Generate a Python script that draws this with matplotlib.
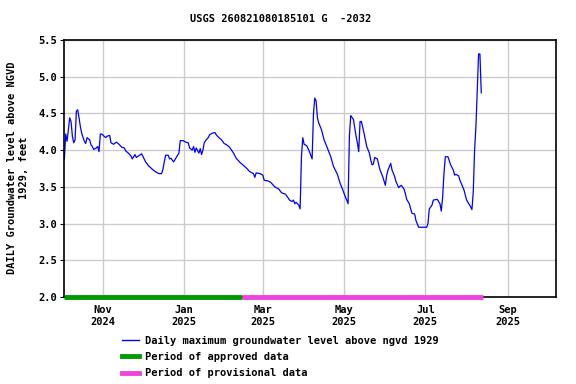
import matplotlib
matplotlib.use("Agg")
import matplotlib.pyplot as plt
import matplotlib.dates as mdates
from matplotlib.lines import Line2D
import pandas as pd

# daily maximum groundwater level (ft above NGVD 1929)
dates = [
    "2024-10-03", "2024-10-04", "2024-10-05", "2024-10-07", "2024-10-08", "2024-10-09",
    "2024-10-10", "2024-10-11", "2024-10-12", "2024-10-13", "2024-10-14", "2024-10-15",
    "2024-10-16", "2024-10-18", "2024-10-19", "2024-10-20", "2024-10-22", "2024-10-23",
    "2024-10-24", "2024-10-25", "2024-10-27", "2024-10-28", "2024-10-29", "2024-10-30",
    "2024-10-31", "2024-11-03", "2024-11-04", "2024-11-06", "2024-11-07", "2024-11-09",
    "2024-11-11", "2024-11-13", "2024-11-15", "2024-11-17", "2024-11-18", "2024-11-20",
    "2024-11-22", "2024-11-23", "2024-11-25", "2024-11-26", "2024-11-30", "2024-12-03",
    "2024-12-05", "2024-12-08", "2024-12-10", "2024-12-13", "2024-12-15", "2024-12-16",
    "2024-12-17", "2024-12-18", "2024-12-20", "2024-12-21", "2024-12-22", "2024-12-24",
    "2024-12-26", "2024-12-28", "2024-12-29", "2024-12-31", "2025-01-02", "2025-01-04",
    "2025-01-05", "2025-01-07", "2025-01-08", "2025-01-09", "2025-01-10", "2025-01-12",
    "2025-01-13", "2025-01-14", "2025-01-15", "2025-01-16", "2025-01-17", "2025-01-19",
    "2025-01-20", "2025-01-22", "2025-01-24", "2025-01-25", "2025-01-27", "2025-01-29",
    "2025-01-31", "2025-02-02", "2025-02-04", "2025-02-07", "2025-02-09", "2025-02-12",
    "2025-02-14", "2025-02-17", "2025-02-19", "2025-02-22", "2025-02-23", "2025-02-24",
    "2025-02-27", "2025-03-01", "2025-03-02", "2025-03-05", "2025-03-07", "2025-03-10",
    "2025-03-13", "2025-03-15", "2025-03-18", "2025-03-20", "2025-03-21", "2025-03-23",
    "2025-03-24", "2025-03-25", "2025-03-26", "2025-03-28", "2025-03-29", "2025-03-30",
    "2025-03-31", "2025-04-01", "2025-04-03", "2025-04-05", "2025-04-06", "2025-04-07",
    "2025-04-08", "2025-04-09", "2025-04-10", "2025-04-11", "2025-04-12", "2025-04-14",
    "2025-04-16", "2025-04-18", "2025-04-21", "2025-04-23", "2025-04-26", "2025-04-28",
    "2025-04-30", "2025-05-02", "2025-05-03", "2025-05-04", "2025-05-05", "2025-05-06",
    "2025-05-08", "2025-05-09", "2025-05-10", "2025-05-11", "2025-05-12", "2025-05-13",
    "2025-05-14", "2025-05-16", "2025-05-17", "2025-05-18", "2025-05-20", "2025-05-21",
    "2025-05-22", "2025-05-23", "2025-05-24", "2025-05-26", "2025-05-27", "2025-05-28",
    "2025-05-30", "2025-06-01", "2025-06-02", "2025-06-03", "2025-06-05", "2025-06-06",
    "2025-06-08", "2025-06-09", "2025-06-11", "2025-06-12", "2025-06-13", "2025-06-15",
    "2025-06-16", "2025-06-17", "2025-06-19", "2025-06-20", "2025-06-21", "2025-06-23",
    "2025-06-24", "2025-06-26", "2025-07-02", "2025-07-03", "2025-07-04", "2025-07-06",
    "2025-07-07", "2025-07-10", "2025-07-12", "2025-07-13", "2025-07-14", "2025-07-15",
    "2025-07-16", "2025-07-18", "2025-07-20", "2025-07-22", "2025-07-23", "2025-07-24",
    "2025-07-26", "2025-07-27", "2025-07-30", "2025-08-01", "2025-08-04", "2025-08-05",
    "2025-08-06", "2025-08-07", "2025-08-08", "2025-08-10", "2025-08-11", "2025-08-12",
]
levels = [
    3.88, 4.22, 4.12, 4.44, 4.39, 4.19,
    4.10, 4.14, 4.53, 4.55, 4.44, 4.32,
    4.23, 4.12, 4.09, 4.17, 4.14, 4.07,
    4.05, 4.01, 4.03, 4.05, 3.98, 4.22,
    4.22, 4.17, 4.19, 4.20, 4.10, 4.08,
    4.11, 4.08, 4.04, 4.03, 3.99, 3.96,
    3.92, 3.88, 3.94, 3.90, 3.95, 3.84,
    3.79, 3.74, 3.71, 3.68, 3.68, 3.74,
    3.84, 3.93, 3.93, 3.88, 3.89, 3.84,
    3.90, 3.96, 4.13, 4.13, 4.11, 4.10,
    4.03, 4.00, 4.05, 3.97, 4.03, 3.96,
    4.02, 3.94, 4.00, 4.10, 4.13, 4.17,
    4.21, 4.23, 4.24, 4.21, 4.17, 4.14,
    4.09, 4.07, 4.04, 3.96, 3.89, 3.83,
    3.80, 3.75, 3.71, 3.68, 3.63, 3.69,
    3.68, 3.66, 3.59, 3.58, 3.56, 3.50,
    3.47, 3.42, 3.40, 3.35, 3.32, 3.30,
    3.32, 3.27, 3.29, 3.25, 3.20, 3.91,
    4.17, 4.08, 4.06, 3.98, 3.93, 3.88,
    4.49, 4.71, 4.67, 4.44, 4.37, 4.28,
    4.14, 4.05, 3.91, 3.78, 3.67, 3.55,
    3.46, 3.36, 3.32, 3.27, 4.19, 4.47,
    4.42, 4.30, 4.19, 4.10, 3.98, 4.39,
    4.39, 4.23, 4.14, 4.05, 3.96, 3.87,
    3.80, 3.81, 3.90, 3.88, 3.80, 3.73,
    3.64, 3.52, 3.66, 3.73, 3.82, 3.73,
    3.64, 3.57, 3.49, 3.51, 3.52, 3.47,
    3.41, 3.33, 3.27, 3.20, 3.14, 3.13,
    3.04, 2.95, 2.95, 3.00, 3.20, 3.25,
    3.32, 3.33, 3.27, 3.17, 3.36, 3.68,
    3.91, 3.91, 3.80, 3.73, 3.66, 3.67,
    3.65, 3.59, 3.46, 3.32, 3.23, 3.19,
    3.43, 4.00, 4.32, 5.31, 5.31, 4.78,
]

approved_period = ["2024-10-03", "2025-02-13"]
provisional_period = ["2025-02-13", "2025-08-13"]

title = "USGS 260821080185101 G  -2032"
ylabel = "DAILY Groundwater level above NGVD\n1929, feet"
series_label = "Daily maximum groundwater level above ngvd 1929"

plt.rcParams["font.family"] = "DejaVu Sans Mono"
plt.rcParams["font.weight"] = "bold"
plt.rcParams["font.size"] = 7.5

fig = plt.figure(figsize=(5.76, 3.84), dpi=100)
ax = fig.add_axes([64 / 576, 1 - 297 / 384, 492 / 576, 257 / 384])

t = pd.to_datetime(dates)
ax.plot(t, levels, color="#0000ff", linewidth=0.9)

# data-status bars along the bottom of the plot
ax.plot(pd.to_datetime(approved_period), [2.0, 2.0], color="#009900",
        linewidth=3.5, solid_capstyle="butt", clip_on=False, zorder=5)
ax.plot(pd.to_datetime(provisional_period), [2.0, 2.0], color="#ee44dd",
        linewidth=3.5, solid_capstyle="butt", clip_on=False, zorder=5)

ax.set_xlim(pd.Timestamp("2024-10-02 17:00"), pd.Timestamp("2025-10-07 03:00"))
ax.set_ylim(2.0, 5.5)
ax.set_yticks([2.0, 2.5, 3.0, 3.5, 4.0, 4.5, 5.0, 5.5])
ax.yaxis.set_major_formatter(matplotlib.ticker.FormatStrFormatter("%.1f"))
ax.xaxis.set_major_locator(mdates.MonthLocator(bymonth=[1, 3, 5, 7, 9, 11]))
ax.xaxis.set_major_formatter(mdates.DateFormatter("%b\n%Y"))
ax.grid(True, color="#cccccc", linewidth=1)
ax.set_axisbelow(True)
ax.tick_params(axis="both", length=0, pad=6)
ax.tick_params(axis="y", length=3, pad=2)
for s in ax.spines.values():
    s.set_linewidth(1.2)

fig.text(0.488, 1 - 19 / 384, title, ha="center", va="center", fontsize=7.5)
fig.text(18 / 576, 1 - 168 / 384, ylabel, rotation=90, ha="center", va="center",
         multialignment="center", fontsize=7.5)

handles = [
    Line2D([], [], color="#0000ff", linewidth=1),
    Line2D([], [], color="#009900", linewidth=3.5),
    Line2D([], [], color="#ee44dd", linewidth=3.5),
]
labels = [series_label, "Period of approved data", "Period of provisional data"]
fig.legend(handles, labels, loc="upper left", bbox_to_anchor=(122 / 576, 1 - 336 / 384),
           frameon=False, borderpad=0, borderaxespad=0, handlelength=1.6,
           handletextpad=0.6, labelspacing=0.58)

fig.savefig("out.png", dpi=100)
